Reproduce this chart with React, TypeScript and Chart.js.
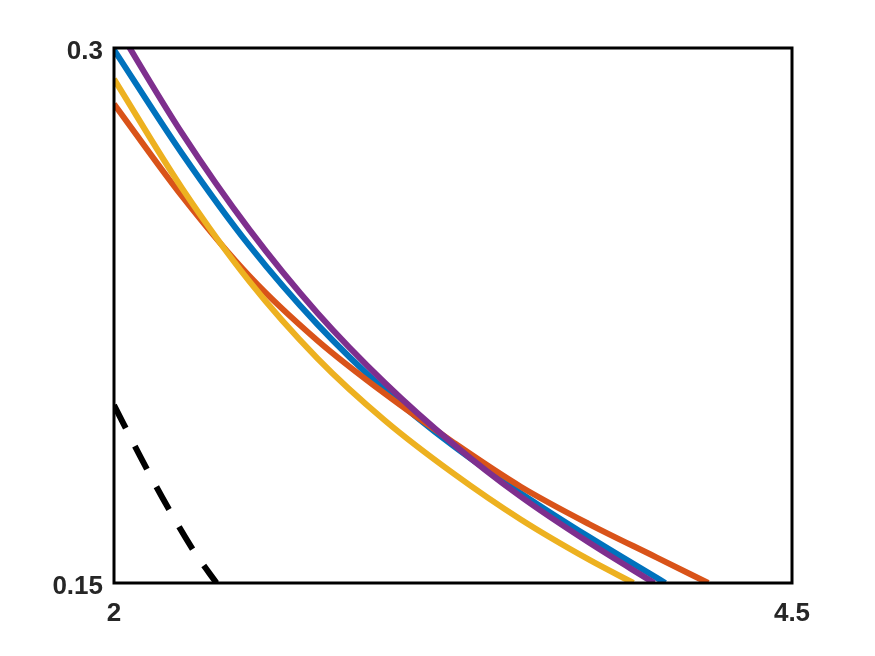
import React, { useEffect, useRef } from "react";
import { Chart, registerables } from "chart.js";

Chart.register(...registerables);

// Series
const blueX = [2, 2.25, 2.5, 2.75, 3, 3.25, 3.5, 3.75, 4.033];
const blueY = [0.2995, 0.2705, 0.2445, 0.2225, 0.204, 0.1885, 0.1752, 0.163, 0.15];

const orangeX = [2, 2.25, 2.5, 2.75, 3, 3.25, 3.5, 3.75, 4, 4.191];
const orangeY = [0.2843, 0.2585, 0.236, 0.218, 0.203, 0.1895, 0.177, 0.1666, 0.1572, 0.15];

const yellowX = [2, 2.25, 2.5, 2.75, 3, 3.25, 3.5, 3.75, 3.915];
const yellowY = [0.2913, 0.2608, 0.2345, 0.213, 0.1955, 0.1808, 0.1678, 0.1566, 0.15];

const purpleX = [2, 2.25, 2.5, 2.75, 3, 3.25, 3.5, 3.75, 3.992];
const purpleY = [0.3073, 0.2762, 0.249, 0.2257, 0.206, 0.189, 0.1742, 0.1614, 0.15];

const dashedX = [2, 2.1, 2.2, 2.3, 2.378];
const dashedY = [0.1999, 0.185, 0.171, 0.1583, 0.15];

const xTicks = [2, 4.5];
const yTicks = [0.15, 0.3];
const xTickLabels = ["2", "4.5"];
const yTickLabels = ["0.15", "0.3"];

const toPoints = (xs: number[], ys: number[]) => xs.map((x, i) => ({ x, y: ys[i] }));

const boxPlugin = {
  id: "boxPlugin",
  afterDatasetsDraw(chart: any) {
    const { ctx, chartArea } = chart;
    ctx.save();
    ctx.strokeStyle = "#000000";
    ctx.lineWidth = 3;
    ctx.strokeRect(chartArea.left, chartArea.top, chartArea.right - chartArea.left, chartArea.bottom - chartArea.top);
    ctx.restore();
  },
};

export default function App() {
  const ref = useRef<HTMLCanvasElement | null>(null);

  useEffect(() => {
    if (!ref.current) return;
    const lineDs = (label: string, xs: number[], ys: number[], color: string, order: number, dash?: number[]) => ({
      label,
      data: toPoints(xs, ys),
      showLine: true,
      borderColor: color,
      backgroundColor: color,
      borderWidth: 6,
      borderDash: dash || [],
      pointRadius: 0,
      cubicInterpolationMode: "monotone" as const,
      order,
      fill: false,
    });
    const font = { family: "'Liberation Sans', Arial, sans-serif", size: 26, weight: "bold" as const };
    const chart = new Chart(ref.current, {
      type: "scatter",
      data: {
        datasets: [
          lineDs("purple", purpleX, purpleY, "#7E2F8E", 0),
          lineDs("yellow", yellowX, yellowY, "#EDB120", 1),
          lineDs("orange", orangeX, orangeY, "#D95319", 2),
          lineDs("blue", blueX, blueY, "#0072BD", 3),
          lineDs("dashed", dashedX, dashedY, "#000000", 4, [26, 20]),
        ],
      },
      options: {
        animation: false,
        responsive: false,
        layout: { padding: { top: 48, right: 83, left: 0, bottom: 0 } },
        plugins: { legend: { display: false }, tooltip: { enabled: false } },
        scales: {
          x: {
            type: "linear",
            min: 2,
            max: 4.5,
            grid: { display: false, drawTicks: false },
            border: { display: false },
            afterBuildTicks: (s: any) => {
              s.ticks = xTicks.map((v) => ({ value: v }));
            },
            afterFit: (s: any) => {
              s.height = 73;
            },
            ticks: {
              autoSkip: false,
              maxRotation: 0,
              padding: 15,
              color: "#262626",
              font,
              callback: (v: any) => {
                const i = xTicks.indexOf(Number(v));
                return i >= 0 ? xTickLabels[i] : "";
              },
            },
          },
          y: {
            type: "linear",
            min: 0.15,
            max: 0.3,
            grid: { display: false, drawTicks: false },
            border: { display: false },
            afterBuildTicks: (s: any) => {
              s.ticks = yTicks.map((v) => ({ value: v }));
            },
            afterFit: (s: any) => {
              s.width = 114;
            },
            ticks: {
              autoSkip: false,
              padding: 11,
              labelOffset: 4,
              color: "#262626",
              font,
              callback: (v: any) => {
                const i = yTicks.findIndex((t) => Math.abs(t - Number(v)) < 1e-9);
                return i >= 0 ? yTickLabels[i] : "";
              },
            },
          },
        },
      },
      plugins: [boxPlugin],
    });
    return () => chart.destroy();
  }, []);

  return (
    <div style={{ position: "fixed", left: 0, top: 0, width: 875, height: 656, background: "#ffffff" }}>
      <canvas ref={ref} width={875} height={656} style={{ display: "block" }} />
    </div>
  );
}
